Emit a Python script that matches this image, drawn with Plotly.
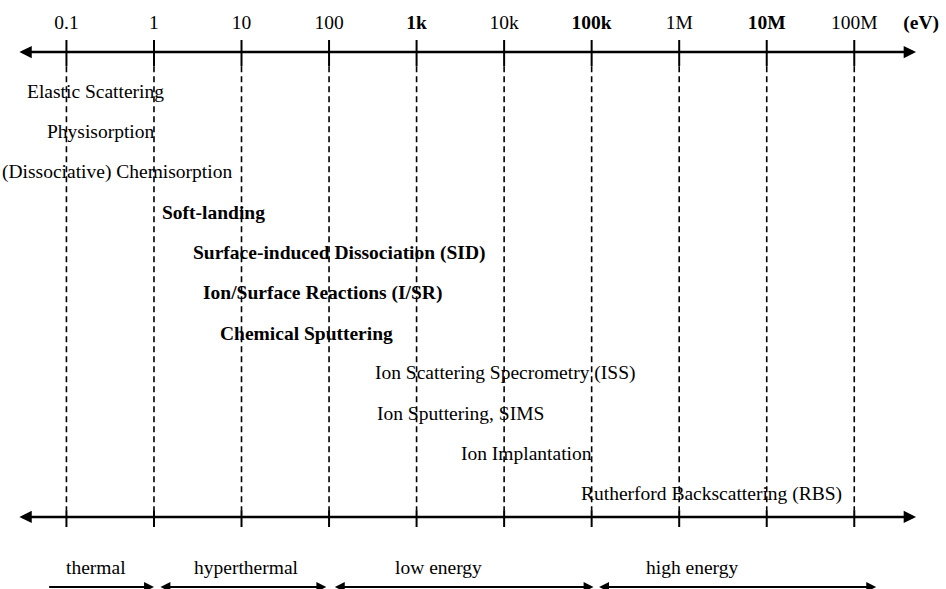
import numpy as np
import plotly.graph_objects as go

# ---------------- data ----------------
tick_energies_eV = [0.1, 1, 10, 100, 1e3, 1e4, 1e5, 1e6, 1e7, 1e8]
tick_labels = ["0.1", "1", "10", "100", "<b>1k</b>", "10k", "<b>100k</b>", "1M", "<b>10M</b>", "100M"]
unit_label = "<b>(eV)</b>"
unit_label_eV = 5.8e8

axis_min_eV = 0.0279
axis_max_eV = 5.08e8

processes = [
    "Elastic Scattering",
    "Physisorption",
    "(Dissociative) Chemisorption",
    "<b>Soft-landing</b>",
    "<b>Surface-induced Dissociation (SID)</b>",
    "<b>Ion/Surface Reactions (I/SR)</b>",
    "<b>Chemical Sputtering</b>",
    "Ion Scattering Specrometry (ISS)",
    "Ion Sputtering, SIMS",
    "Ion Implantation",
    "Rutherford Backscattering (RBS)",
]
process_start_eV = [0.0351, 0.0594, 0.0183, 1.244, 2.79, 3.63, 5.68, 335, 353, 3190, 75000]

regimes = ["thermal", "hyperthermal", "low energy", "high energy"]
regime_lo_eV = [0.061, 1.14, 112, 1.17e5]
regime_hi_eV = [1.0, 93, 1.05e5, 1.78e8]
regime_label_eV = [0.22, 11.5, 1800, 1.4e6]
regime_double_headed = [False, True, True, True]

# ---------------- layout constants (row units, top -> bottom) ----------------
FONT = "Liberation Serif"
FS = 19.5
ROW_TOP_AXIS = 0.02
ROW_TOP_TICK = (-0.28, 0.37)
ROW_BOT_AXIS = 11.57
ROW_BOT_TICK = (11.40, 11.82)
ROW_REGIME_LABEL = 12.83
ROW_REGIME_ARROW = 13.31

MARGIN_T = 38
H = 589
ROW_PX = 40.25
row_at_top = 1 + (MARGIN_T - 91.5) / ROW_PX
row_at_bottom = 1 + (H - 91.5) / ROW_PX

fig = go.Figure()

# dashed guide lines between the two axes
dx, dy = [], []
for e in tick_energies_eV:
    dx += [e, e, None]
    dy += [ROW_TOP_TICK[1], ROW_BOT_TICK[0], None]
fig.add_trace(go.Scatter(x=dx, y=dy, mode="lines", hoverinfo="skip",
                         line=dict(color="black", width=1.6, dash="6px,4px")))

# solid tick marks on both axes
tx, ty = [], []
for e in tick_energies_eV:
    tx += [e, e, None, e, e, None]
    ty += [ROW_TOP_TICK[0], ROW_TOP_TICK[1], None, ROW_BOT_TICK[0], ROW_BOT_TICK[1], None]
fig.add_trace(go.Scatter(x=tx, y=ty, mode="lines", hoverinfo="skip", cliponaxis=False,
                         line=dict(color="black", width=2)))

annotations = []

def arrow(x0, x1, row, width, size, double=True):
    return dict(x=np.log10(x1), y=row, ax=np.log10(x0), ay=row,
                xref="x", yref="y", axref="x", ayref="y",
                text="", showarrow=True, arrowhead=2, startarrowhead=2,
                arrowside="end+start" if double else "end",
                arrowwidth=width, arrowsize=size, startarrowsize=size,
                arrowcolor="black", standoff=0, startstandoff=0,
                font=dict(size=1))

# main axes (double-headed)
annotations.append(arrow(axis_min_eV, axis_max_eV, ROW_TOP_AXIS, 2.6, 0.95))
annotations.append(arrow(axis_min_eV, axis_max_eV, ROW_BOT_AXIS, 2.6, 0.95))

# process labels
for i, (name, e0) in enumerate(zip(processes, process_start_eV)):
    annotations.append(dict(x=np.log10(e0), y=i + 1, xref="x", yref="y",
                            text=name, showarrow=False, xanchor="left", yanchor="middle",
                            borderpad=0, xshift=-1,
                            font=dict(family=FONT, size=FS, color="black")))

# regime labels and arrows
for name, lo, hi, lab, dbl in zip(regimes, regime_lo_eV, regime_hi_eV, regime_label_eV, regime_double_headed):
    annotations.append(dict(x=np.log10(lab), y=ROW_REGIME_LABEL, xref="x", yref="y",
                            text=name, showarrow=False, xanchor="center", yanchor="middle",
                            font=dict(family=FONT, size=FS, color="black")))
    annotations.append(arrow(lo, hi, ROW_REGIME_ARROW, 1.8, 1.1, double=dbl))

fig.update_layout(
    width=946, height=H,
    margin=dict(l=0, r=0, t=MARGIN_T, b=0, autoexpand=False),
    paper_bgcolor="white", plot_bgcolor="white",
    showlegend=False,
    annotations=annotations,
    xaxis=dict(type="log", range=[-1.759, 9.048], side="top",
               tickvals=tick_energies_eV + [unit_label_eV],
               ticktext=tick_labels + [unit_label],
               ticks="", showgrid=False, zeroline=False, showline=False,
               automargin=False, ticklabelstandoff=4,
               tickfont=dict(family=FONT, size=FS, color="black"),
               fixedrange=True),
    yaxis=dict(range=[row_at_bottom, row_at_top], visible=False, fixedrange=True,
               automargin=False),
    font=dict(family=FONT, color="black"),
)

fig.write_html("out.html", config={"displayModeBar": False},
               post_script="document.body.style.margin='0';")
